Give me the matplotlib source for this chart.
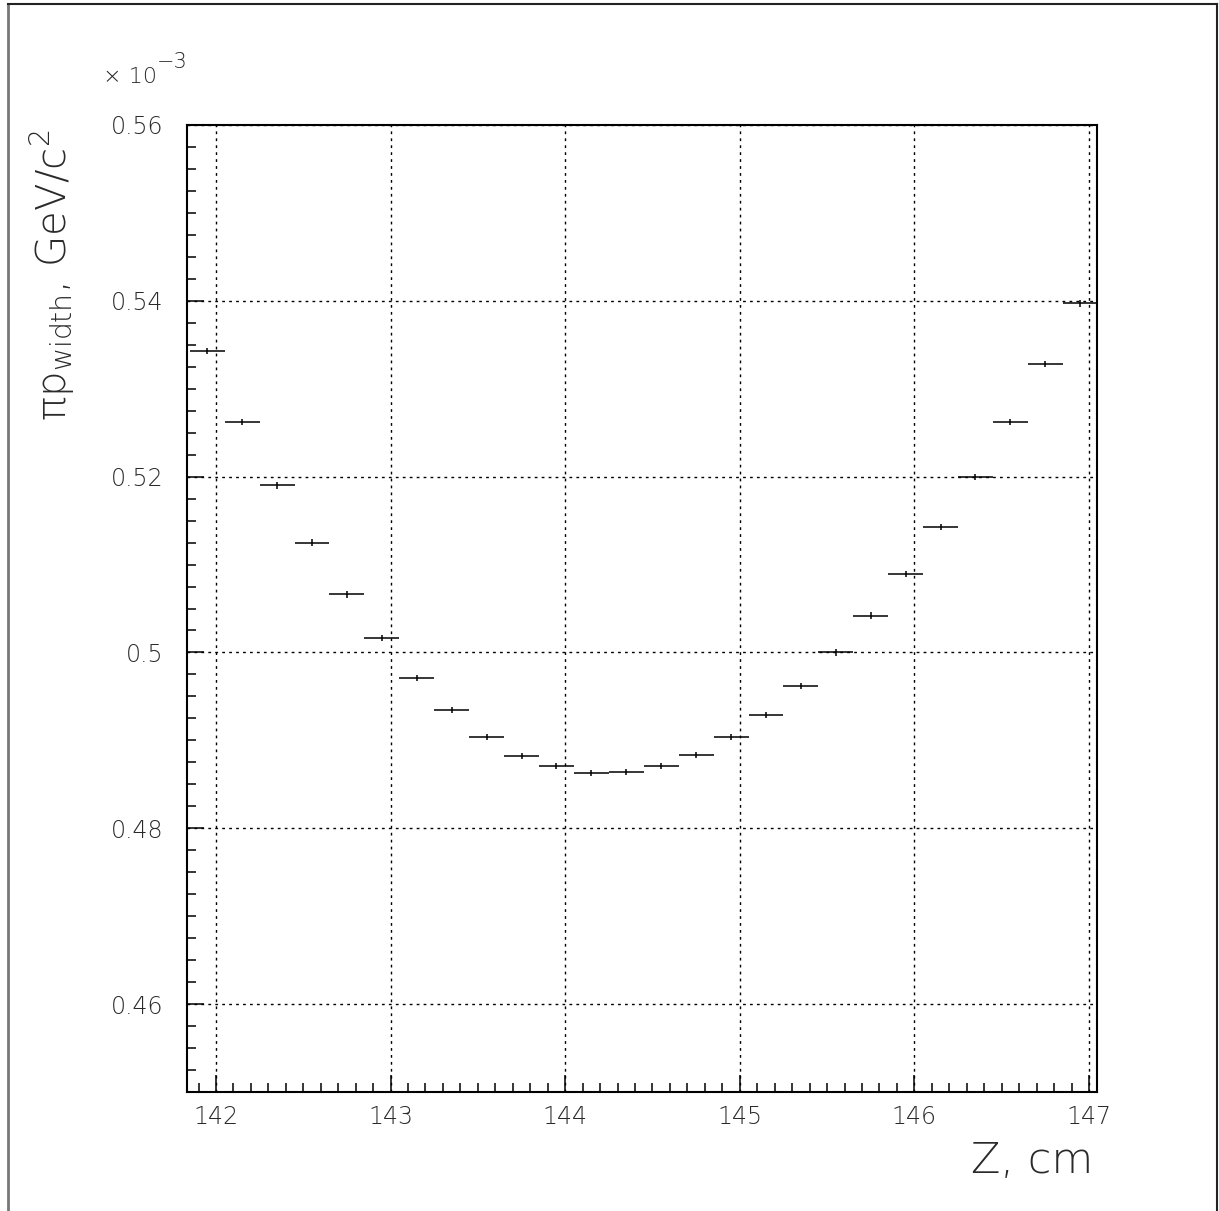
import matplotlib
matplotlib.use("Agg")
import matplotlib.pyplot as plt
from matplotlib.lines import Line2D
from matplotlib.ticker import MultipleLocator, FixedLocator

plt.rcParams['font.family'] = ['DejaVu Sans']
plt.rcParams['font.weight'] = 'light'
plt.rcParams['mathtext.fontset'] = 'dejavusans'

# data (values in units of 1e-3 GeV/c^2)
z_centers = [141.95, 142.15, 142.35, 142.55, 142.75, 142.95, 143.15, 143.35,
             143.55, 143.75, 143.95, 144.15, 144.35, 144.55, 144.75, 144.95,
             145.15, 145.35, 145.55, 145.75, 145.95, 146.15, 146.35, 146.55,
             146.75, 146.95]
width_vals = [0.5343, 0.5262, 0.5190, 0.5125, 0.5066, 0.5016, 0.4971, 0.4935,
              0.4904, 0.4882, 0.4871, 0.4863, 0.4864, 0.4871, 0.4883, 0.4904,
              0.4929, 0.4962, 0.5000, 0.5042, 0.5089, 0.5143, 0.5200, 0.5262,
              0.5328, 0.5397]
width_errs = [0.00035] * len(width_vals)
bin_half = 0.1
y_tick_vals = [0.46, 0.48, 0.50, 0.52, 0.54, 0.56]
y_tick_labels = ['0.46', '0.48', '0.5', '0.52', '0.54', '0.56']

W, H = 1219, 1211
TXT = '#2a2a2a'
fig = plt.figure(figsize=(W / 100, H / 100), dpi=100)
ax = fig.add_axes([187 / W, 1 - 1092 / H, 910 / W, 967 / H])

ax.errorbar(z_centers, width_vals, xerr=bin_half, yerr=width_errs, fmt='none',
            ecolor='black', elinewidth=1.1, capsize=0, zorder=3)

ax.set_xlim(141.834, 147.046)
ax.set_ylim(0.45, 0.56)

ax.xaxis.set_major_locator(MultipleLocator(1))
ax.xaxis.set_minor_locator(MultipleLocator(0.1))
ax.yaxis.set_major_locator(FixedLocator(y_tick_vals))
ax.yaxis.set_minor_locator(MultipleLocator(0.0025))
ax.set_yticklabels(y_tick_labels)

ax.tick_params(axis='both', which='both', direction='in', top=False, right=False,
               color='black', width=1.1)
ax.tick_params(axis='both', which='major', length=12.5)
ax.tick_params(axis='both', which='minor', length=6.5)
ax.tick_params(axis='x', which='major', labelsize=17, pad=9, labelcolor=TXT)
ax.tick_params(axis='y', which='major', labelsize=17, pad=17, labelcolor=TXT)

ax.grid(True, which='major', linestyle=(0, (2, 3)), color='black', linewidth=1.0)
for s in ax.spines.values():
    s.set_linewidth(1.5)
    s.set_color('black')

# axis titles
fig.text(1093 / W, 1 - 1160 / H, 'Z, cm', ha='right', va='center', fontsize=31,
         color=TXT)
fig.text(52 / W, 1 - 130 / H, '\u03c0p$_{\\mathregular{width}}$, GeV/c$^{\\mathregular{2}}$',
         rotation=90, ha='center', va='top', fontsize=29, color=TXT)
fig.text(103 / W, 1 - 83 / H, '\u00d7 10', ha='left', va='baseline',
         fontsize=16, color=TXT)
fig.text(157 / W, 1 - 68 / H, '\u22123', ha='left', va='baseline',
         fontsize=15, color=TXT)

# outer frame
fig.add_artist(Line2D([8 / W, 8 / W], [0, 1 - 4 / H], transform=fig.transFigure,
                      color='#777777', linewidth=2))
fig.add_artist(Line2D([8 / W, 1217 / W], [1 - 4 / H, 1 - 4 / H], transform=fig.transFigure,
                      color='#222222', linewidth=1.5))
fig.add_artist(Line2D([1217 / W, 1217 / W], [0, 1 - 4 / H], transform=fig.transFigure,
                      color='#222222', linewidth=1.5))

fig.savefig('out.png', dpi=100)
